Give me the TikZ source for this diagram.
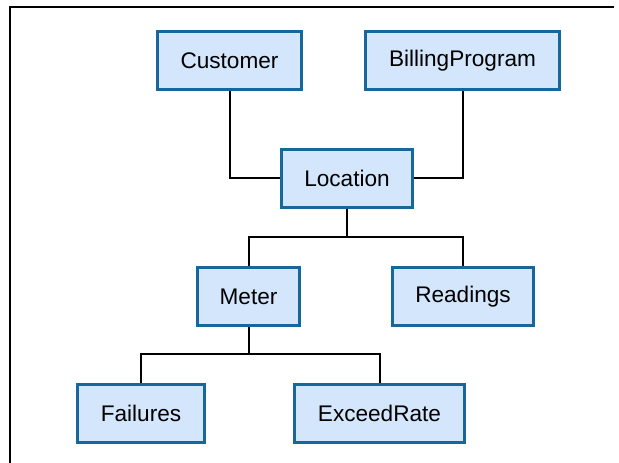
\documentclass[tikz,border=0pt]{standalone}
\usepackage{fontspec}
\setmainfont{Liberation Sans}
\definecolor{boxfill}{HTML}{D3E6FB}
\definecolor{boxedge}{HTML}{17679A}
\begin{document}
\begin{tikzpicture}[x=1pt,y=-1pt,
  entity/.style={draw=boxedge,fill=boxfill,line width=3pt,inner sep=0pt,
    minimum height=58pt,font=\fontsize{22.6}{26}\selectfont},
  link/.style={draw=black,line width=2pt}]
  \useasboundingbox (0,0) rectangle (619,463);
  % frame edges
  \coordinate (ftl) at (9.5,6.5);
  \coordinate (fbl) at (9.5,463);
  \coordinate (ftr) at (614,6.5);
  \draw[line width=2pt] (fbl) -- (ftl) -- (ftr);
  % entities
  \node[entity,minimum width=144pt] (cust) at (229.5,60.5) {Customer};
  \node[entity,minimum width=194pt] (bill) at (462.5,60.5) {BillingProgram};
  \node[entity,minimum width=131pt] (loc) at (347,178) {Location};
  \node[entity,minimum width=102pt] (meter) at (248.5,296.5) {Meter};
  \node[entity,minimum width=141pt] (read) at (463,296.5) {Readings};
  \node[entity,minimum width=127pt] (fail) at (141,413) {Failures};
  \node[entity,minimum width=170pt] (exc) at (379.5,413) {ExceedRate};
  % connectors
  \draw[link] (cust.south) |- (loc.west);
  \draw[link] (bill.south) |- (loc.east);
  \coordinate (locj) at (347,237);
  \draw[link] (loc.south) -- (locj);
  \draw[link] (meter.north) |- (locj) -| (read.north);
  \coordinate (metj) at (248.5,354);
  \draw[link] (meter.south) -- (metj);
  \draw[link] (fail.north) |- (metj) -| (exc.north);
\end{tikzpicture}
\end{document}
